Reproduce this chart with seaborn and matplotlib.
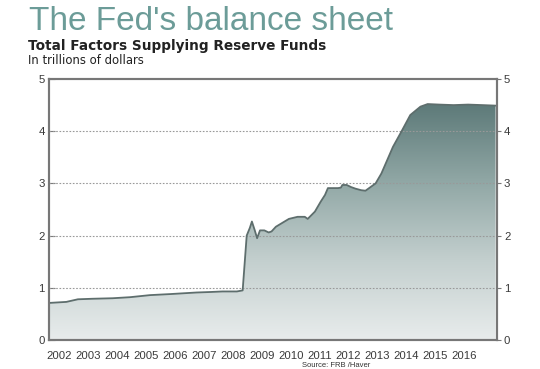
import numpy as np
import pandas as pd
import matplotlib
matplotlib.use("Agg")
import matplotlib.pyplot as plt
import seaborn as sns
from matplotlib.colors import LinearSegmentedColormap

# ---- data ----
years = [2002.0, 2002.3, 2002.6, 2003.0, 2003.5, 2004.2, 2004.8, 2005.5, 2006.2,
         2007.1, 2007.6, 2008.0, 2008.5, 2008.70, 2008.84, 2008.95, 2009.02, 2009.12,
         2009.2, 2009.3, 2009.45, 2009.6, 2009.7, 2009.85, 2010.0, 2010.3, 2010.6,
         2010.85, 2010.95, 2011.2, 2011.4, 2011.55, 2011.65, 2012.0, 2012.1, 2012.15,
         2012.3, 2012.45, 2012.6, 2012.8, 2012.95, 2013.1, 2013.3, 2013.5, 2013.9,
         2014.2, 2014.5, 2014.85, 2015.1, 2015.5, 2016.0, 2016.5, 2017.0, 2017.45]
values = [0.71, 0.72, 0.73, 0.78, 0.79, 0.80, 0.82, 0.86, 0.88,
          0.91, 0.92, 0.93, 0.93, 0.95, 2.00, 2.15, 2.27, 2.10,
          1.95, 2.10, 2.10, 2.06, 2.08, 2.17, 2.22, 2.32, 2.36,
          2.36, 2.32, 2.46, 2.65, 2.78, 2.91, 2.91, 2.92, 2.97,
          2.97, 2.93, 2.90, 2.87, 2.86, 2.92, 3.00, 3.19, 3.70,
          4.00, 4.31, 4.47, 4.52, 4.51, 4.50, 4.51, 4.50, 4.49]
year_labels = [str(y) for y in range(2002, 2017)]
y_ticks = [0, 1, 2, 3, 4, 5]

df = pd.DataFrame({"year": years, "value": values})

sns.set_theme(style="white")
plt.rcParams["font.family"] = ["Liberation Sans", "DejaVu Sans"]

fig = plt.figure(figsize=(5.4, 3.69), dpi=100)
ax = fig.add_axes([49/540, 1-340/369, 448/540, 261/369])

x0, x1 = 2002.0, 2017.5
ax.set_xlim(x0, x1)
ax.set_ylim(0, 5)

# gradient fill under the curve
cmap = LinearSegmentedColormap.from_list("g", ["#e8ecec", "#c3cfce", "#8fa6a4", "#5a7776"])
grad = np.linspace(0, 1, 256).reshape(-1, 1)
poly = ax.fill_between(df["year"], 0, df["value"], color="none", lw=0)
im = ax.imshow(grad, extent=[x0, x1, 0, 4.6], origin="lower", aspect="auto",
               cmap=cmap, zorder=1)
path = poly.get_paths()[0]
im.set_clip_path(path, transform=ax.transData)

# grid
for v in [1, 2, 3, 4]:
    ax.axhline(v, color="#999999", lw=0.8, ls=(0, (1.5, 1.5)), zorder=2)

sns.lineplot(data=df, x="year", y="value", ax=ax, color="#5e6e6d", lw=1.3, zorder=3)

ax.set_xlabel("")
ax.set_ylabel("")

# x ticks: majors at year starts, minors quarterly, labels offset
ax.set_xticks(np.arange(2002, 2018))
ax.set_xticklabels([])
ax.set_xticks(np.arange(2002, 2017.5, 0.25), minor=True)
ax.tick_params(axis="x", which="major", direction="in", length=4, width=0.8,
               color="#777777", bottom=True)
ax.tick_params(axis="x", which="minor", direction="in", length=2, width=0.6,
               color="#777777", bottom=True)
for i, lab in enumerate(year_labels):
    ax.text(2002 + i + 0.36, -0.22, lab, ha="center", va="top", fontsize=8.2,
            color="#3a3a3a", transform=ax.transData)

ax.set_yticks(y_ticks)
ax.set_yticklabels([str(t) for t in y_ticks], fontsize=8.2, color="#3a3a3a")
ax.tick_params(axis="y", direction="in", length=4, width=0.8, color="#777777",
               left=True, pad=3)
ax2 = ax.twinx()
ax2.set_ylim(0, 5)
ax2.set_yticks(y_ticks)
ax2.set_yticklabels([str(t) for t in y_ticks], fontsize=8.2, color="#3a3a3a")
ax2.tick_params(axis="y", direction="out", length=3, width=0.8, color="#777777",
                right=True, pad=2)
ax2.grid(False)
ax.grid(False)

for a in (ax, ax2):
    for s in a.spines.values():
        s.set_color("#777777")
        s.set_linewidth(1.5)

fig.text(29/540, 1-30/369, "The Fed's balance sheet", fontsize=24, color="#6c9c98",
         ha="left", va="baseline")
fig.text(28/540, 1-50/369, "Total Factors Supplying Reserve Funds", fontsize=9.8,
         fontweight="bold", color="#222222", ha="left", va="baseline",
         family=["DejaVu Sans"])
fig.text(28/540, 1-64/369, "In trillions of dollars", fontsize=8.4, color="#222222",
         ha="left", va="baseline", family=["DejaVu Sans"])
fig.text(336/540, 1-367/369, "Source: FRB /Haver", fontsize=5.5, color="#333333",
         ha="center", va="baseline")

fig.savefig("out.png", dpi=100, facecolor="white")
